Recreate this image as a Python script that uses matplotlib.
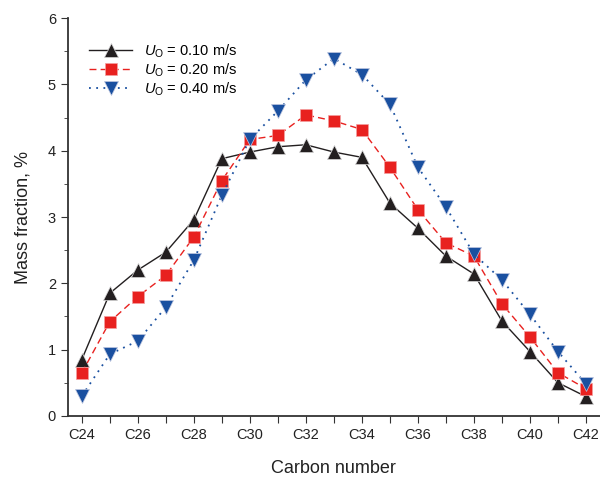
import matplotlib
matplotlib.use("Agg")
import matplotlib.pyplot as plt
from matplotlib.ticker import MultipleLocator

plt.rcParams['font.family'] = ['Liberation Sans', 'DejaVu Sans']
plt.rcParams['mathtext.fontset'] = 'custom'
plt.rcParams['mathtext.rm'] = 'Liberation Sans'
plt.rcParams['mathtext.it'] = 'Liberation Sans:italic'

# Carbon numbers C24..C42
carbon = [f"C{n}" for n in range(24, 43)]

# Mass fraction (%) for each superficial velocity
u010 = [0.85, 1.85, 2.20, 2.47, 2.96, 3.88, 3.98, 4.06, 4.09, 3.98,
        3.90, 3.21, 2.83, 2.41, 2.14, 1.43, 0.97, 0.50, 0.29]
u020 = [0.65, 1.42, 1.80, 2.12, 2.70, 3.55, 4.17, 4.23, 4.54, 4.45,
        4.32, 3.75, 3.11, 2.61, 2.41, 1.69, 1.19, 0.65, 0.41]
u040 = [0.30, 0.93, 1.13, 1.64, 2.35, 3.33, 4.17, 4.60, 5.07, 5.39,
        5.15, 4.70, 3.75, 3.15, 2.44, 2.05, 1.53, 0.97, 0.48]

labels = [r'$U_\mathrm{O}$ = 0.10 m/s', r'$U_\mathrm{O}$ = 0.20 m/s',
          r'$U_\mathrm{O}$ = 0.40 m/s']

fig = plt.figure(figsize=(6.0, 4.78), dpi=100)
ax = fig.add_axes([0.113, 0.13, 0.887, 0.832])

x = list(range(len(carbon)))

ax.plot(x, u010, color='#231f20', linestyle='-', linewidth=1.0,
        marker='^', markersize=10, markeredgecolor='#d8d8d8',
        markeredgewidth=0.5, label=labels[0])
ax.plot(x, u020, color='#e8211f', linestyle=(0, (5, 3)), linewidth=1.0,
        marker='s', markersize=8.5, markeredgecolor='#f4a0a0',
        markeredgewidth=0.5, label=labels[1])
ax.plot(x, u040, color='#1a50a0', linestyle=(0, (1, 3)), linewidth=1.3,
        marker='v', markersize=10, markeredgecolor='#c0c8e0',
        markeredgewidth=0.5, label=labels[2])

# Axes
ax.set_xlim(-0.5, 18.5)
ax.set_ylim(0, 6)
ax.set_xticks(x)
ax.set_xticklabels([c if i % 2 == 0 else '' for i, c in enumerate(carbon)])
ax.yaxis.set_major_locator(MultipleLocator(1))
ax.yaxis.set_minor_locator(MultipleLocator(0.5))
ax.tick_params(axis='both', which='both', direction='out', colors='#333333',
               labelsize=10.5, labelcolor='#222222')
ax.tick_params(axis='both', which='major', length=5)
ax.tick_params(axis='y', which='minor', length=3)
ax.set_xlabel('Carbon number', fontsize=13, labelpad=13, color='#222222')
ax.set_ylabel('Mass fraction, %', fontsize=13, labelpad=12, color='#222222')

for side in ['top', 'right']:
    ax.spines[side].set_visible(False)
for side in ['left', 'bottom']:
    ax.spines[side].set_color('#333333')
    ax.spines[side].set_linewidth(1.3)

ax.legend(loc='upper left', bbox_to_anchor=(0.02, 0.965), frameon=False,
          fontsize=10.5, handlelength=3.0, labelspacing=0.12, borderaxespad=0.3)

fig.savefig('out.png', dpi=100)
